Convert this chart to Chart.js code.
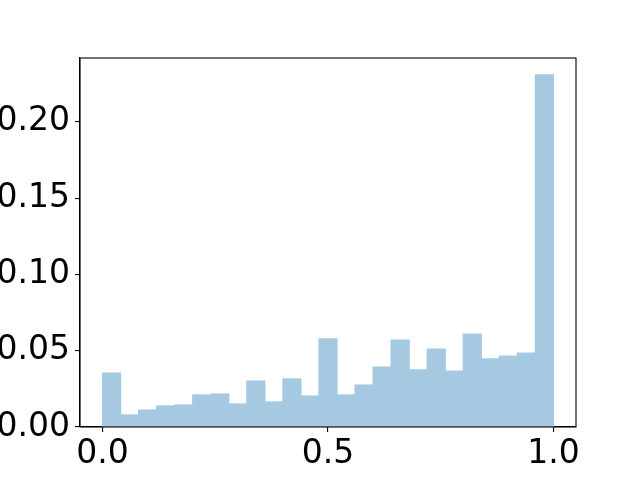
<!DOCTYPE html>
<html>
<head>
<meta charset="utf-8">
<script src="https://cdn.jsdelivr.net/npm/chart.js@4/dist/chart.umd.min.js"></script>
<style>
html,body{margin:0;padding:0;background:#fff;}
#wrap{width:640px;height:480px;}
</style>
</head>
<body>
<div id="wrap"><canvas id="c" width="640" height="480"></canvas></div>
<script>
const binCenters = [0.02,0.06,0.10,0.14,0.18,0.22,0.26,0.30,0.34,0.38,0.42,0.46,0.50,0.54,0.58,0.62,0.66,0.70,0.74,0.78,0.82,0.86,0.90,0.94,0.98];
const binValues = [0.0354,0.0079,0.0111,0.0138,0.0144,0.0210,0.0216,0.0151,0.0301,0.0164,0.0315,0.0203,0.0577,0.0210,0.0275,0.0393,0.0570,0.0374,0.0511,0.0367,0.0609,0.0446,0.0465,0.0485,0.2307];
const xTicks = [0.0,0.5,1.0];
const xTickLabels = ["0.0","0.5","1.0"];
const yTicks = [0.00,0.05,0.10,0.15,0.20];
const yTickLabels = ["0.00","0.05","0.10","0.15","0.20"];

const frame = {
  id:'frame',
  afterDraw(chart){
    const a = chart.chartArea, ctx = chart.ctx;
    ctx.save();
    ctx.strokeStyle = '#000';
    ctx.lineWidth = 1.1;
    ctx.strokeRect(a.left, a.top, a.right - a.left, a.bottom - a.top);
    ctx.restore();
  }
};

new Chart(document.getElementById('c'), {
  type:'bar',
  data:{
    datasets:[{
      data: binCenters.map((x,i)=>({x:x, y:binValues[i]})),
      backgroundColor:'rgb(165,201,225)',
      borderWidth:0,
      inflateAmount:0.6,
      barPercentage:1.0,
      categoryPercentage:1.0
    }]
  },
  options:{
    responsive:false,
    animation:false,
    layout:{padding:{top:58,right:64,left:0,bottom:0}},
    plugins:{legend:{display:false},tooltip:{enabled:false}},
    scales:{
      x:{
        type:'linear',
        min:-0.05, max:1.05,
        offset:false,
        afterBuildTicks(s){ s.ticks = xTicks.map(v=>({value:v})); },
        afterFit(s){ s.height = 53; },
        grid:{display:true, offset:false, drawOnChartArea:false, drawTicks:true, tickLength:5, color:'#000', lineWidth:1.1},
        border:{display:true, color:'#000', width:1.1},
        ticks:{
          font:{family:'DejaVu Sans', size:33},
          color:'#000',
          padding:3,
          maxRotation:0,
          autoSkip:false,
          callback:(v)=>{ const i = xTicks.indexOf(v); return i>=0 ? xTickLabels[i] : ''; }
        }
      },
      y:{
        type:'linear',
        min:0, max:0.2418,
        afterBuildTicks(s){ s.ticks = yTicks.map(v=>({value:v})); },
        afterFit(s){ s.width = 80; },
        grid:{display:true, offset:false, drawOnChartArea:false, drawTicks:true, tickLength:5, color:'#000', lineWidth:1.1},
        border:{display:true, color:'#000', width:1.1},
        ticks:{
          font:{family:'DejaVu Sans', size:33},
          color:'#000',
          padding:5,
          autoSkip:false,
          callback:(v)=>{ const i = yTicks.findIndex(t=>Math.abs(t-v)<1e-9); return i>=0 ? yTickLabels[i] : ''; }
        }
      }
    }
  },
  plugins:[frame]
});
</script>
</body>
</html>
